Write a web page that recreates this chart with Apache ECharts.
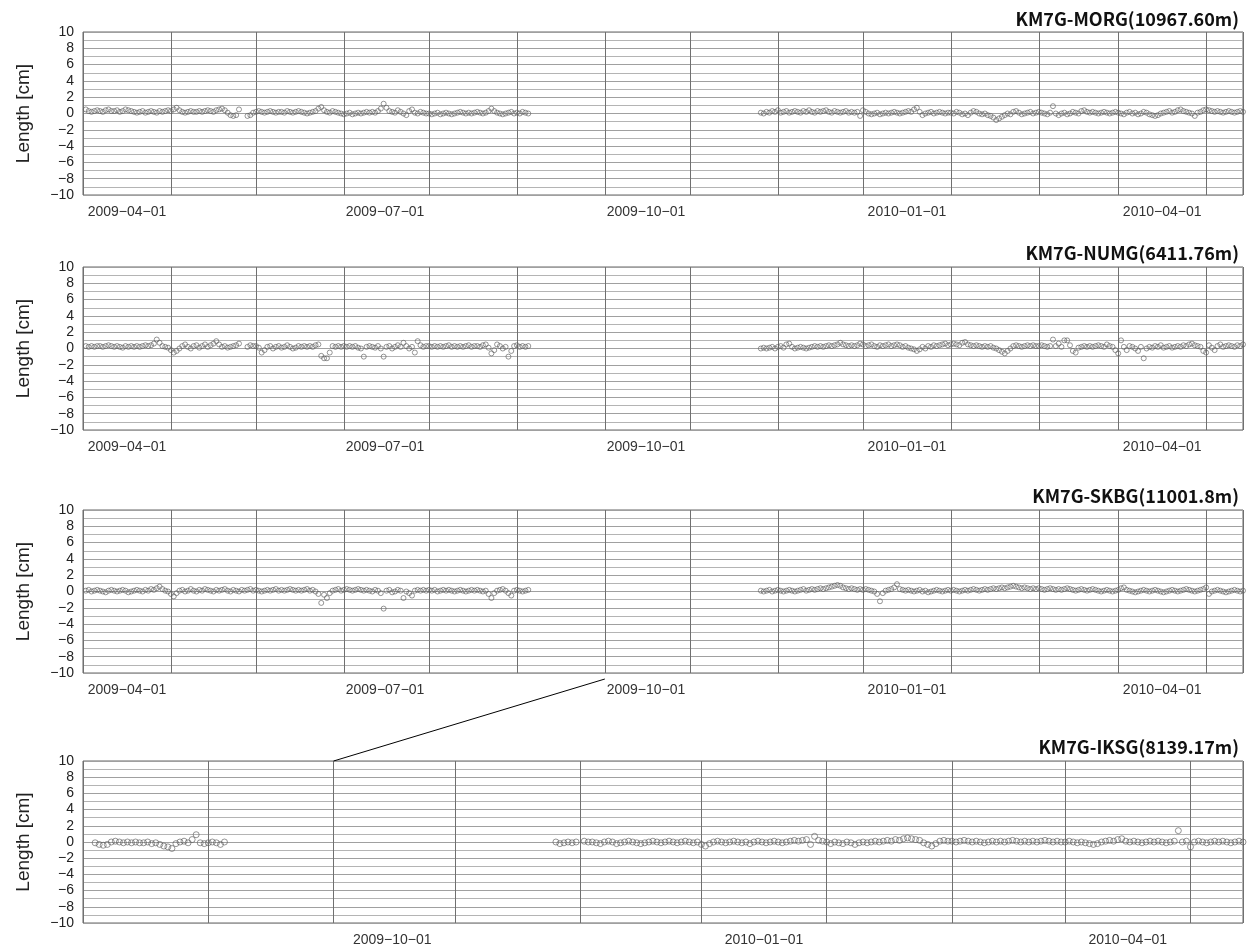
<!DOCTYPE html>
<html><head><meta charset="utf-8">
<script src="https://cdn.jsdelivr.net/npm/echarts@6/dist/echarts.min.js"></script>
<style>html,body{margin:0;padding:0;background:#fff}#c{width:1248px;height:947px}</style>
</head><body><div id="c"></div>
<script>
// ---------- data ----------
const stationNames = ['KM7G-MORG(10967.60m)', 'KM7G-NUMG(6411.76m)', 'KM7G-SKBG(11001.8m)', 'KM7G-IKSG(8139.17m)'];
const axisStart = ['2009-03-01', '2009-03-01', '2009-03-01', '2009-07-01'];
const axisEnd = '2010-04-14';
const segAStart = ['2009-03-02', '2009-03-02', '2009-03-02', '2009-07-04'];
const segBStart = '2009-10-26';
const yTicks = [-10, -8, -6, -4, -2, 0, 2, 4, 6, 8, 10];

// daily length change [cm], first observation block
const morgA = [0.5,0.3,0.2,0.3,0.4,0.3,0.2,0.4,0.5,0.3,0.3,0.4,0.2,0.3,0.5,0.4,0.3,0.2,0.1,0.2,0.3,0.1,0.2,0.3,0.2,0.1,0.3,0.2,0.3,0.4,
 0.3,0.5,0.7,0.4,0.2,0.1,0.2,0.3,0.2,0.2,0.3,0.2,0.3,0.4,0.3,0.2,0.4,0.5,0.6,0.4,0.1,-0.2,-0.3,-0.2,0.5,null,null,-0.3,-0.2,0.1,
 0.2,0.3,0.2,0.1,0.2,0.3,0.2,0.1,0.2,0.2,0.1,0.3,0.2,0.1,0.2,0.3,0.2,0.1,0.0,0.1,0.2,0.3,0.6,0.8,0.4,0.2,0.1,0.3,0.2,0.1,0.0,
 -0.1,0.0,0.1,-0.1,0.0,0.1,0.0,0.1,0.2,0.1,0.2,0.1,0.3,0.6,1.2,0.7,0.3,0.2,0.1,0.4,0.2,0.0,-0.2,0.3,0.5,0.1,0.0,0.2,0.1,0.0,
 0.0,-0.1,0.0,0.1,-0.1,0.0,0.1,0.0,-0.1,0.0,0.1,0.2,0.1,0.0,0.1,0.0,0.1,0.2,0.1,0.0,0.1,0.3,0.6,0.3,0.1,0.0,-0.1,0.0,0.1,0.2,0.0,
 0.1,0.0,0.2,0.1,0.0];
const numgA = [0.3,0.2,0.3,0.2,0.3,0.3,0.2,0.3,0.4,0.3,0.2,0.3,0.2,0.1,0.3,0.2,0.3,0.2,0.3,0.2,0.3,0.4,0.3,0.4,0.6,1.1,0.7,0.3,0.2,0.1,
 -0.2,-0.5,-0.3,0.0,0.3,0.5,0.2,0.0,0.3,0.4,0.1,0.3,0.5,0.2,0.4,0.6,0.9,0.5,0.2,0.3,0.1,0.2,0.3,0.4,0.6,null,null,0.2,0.4,0.3,
 0.3,0.1,-0.5,-0.2,0.2,0.3,0.0,0.2,0.3,0.1,0.2,0.4,0.2,0.0,0.1,0.3,0.2,0.3,0.2,0.3,0.2,0.4,0.5,-0.9,-1.2,-1.2,-0.5,0.3,0.2,0.3,0.2,
 0.3,0.2,0.3,0.2,0.3,0.1,0.0,-1.0,0.2,0.3,0.2,0.1,0.3,0.0,-1.0,0.2,0.3,0.0,0.2,0.4,0.2,0.7,0.3,0.0,0.2,-0.5,0.9,0.4,0.2,0.3,
 0.3,0.2,0.3,0.2,0.3,0.2,0.3,0.4,0.2,0.3,0.2,0.3,0.2,0.3,0.4,0.2,0.3,0.3,0.2,0.4,0.5,0.1,-0.6,-0.2,0.5,0.3,0.0,0.2,-1.0,-0.3,0.3,
 0.4,0.2,0.3,0.2,0.3];
const skbgA = [0.1,0.2,0.0,0.1,0.2,0.1,0.0,-0.1,0.1,0.2,0.1,0.0,0.1,0.2,0.1,-0.1,0.0,0.1,0.2,0.1,0.0,0.2,0.1,0.3,0.2,0.4,0.6,0.3,0.1,0.0,
 -0.3,-0.6,-0.2,0.1,0.2,0.0,0.1,0.3,0.1,0.0,0.2,0.1,0.3,0.2,0.1,0.0,0.2,0.1,0.2,0.3,0.1,0.0,0.2,0.1,0.0,0.2,0.1,0.2,0.3,0.1,
 0.2,0.1,0.0,0.1,0.2,0.1,0.2,0.3,0.1,0.2,0.1,0.2,0.3,0.2,0.1,0.2,0.1,0.2,0.3,0.1,0.2,0.0,-0.3,-1.4,-0.4,-0.8,-0.2,0.1,0.2,0.3,0.1,
 0.2,0.3,0.2,0.1,0.2,0.3,0.2,0.1,0.2,0.1,0.0,0.2,0.1,-0.2,-2.1,0.1,0.2,-0.1,0.0,0.2,0.1,-0.8,0.0,-0.2,-0.5,0.1,0.2,0.1,0.2,0.1,
 0.2,0.1,0.2,0.0,0.1,0.2,0.1,0.2,0.1,0.0,0.1,0.2,0.1,0.0,0.1,0.2,0.1,0.2,0.1,0.0,0.1,-0.3,-0.8,-0.2,0.1,0.2,0.3,0.1,-0.2,-0.5,0.1,
 0.2,0.1,0.0,0.1,0.2];
const iksgA = [-0.1,-0.3,-0.4,-0.3,0.0,0.1,0.0,-0.1,0.0,-0.1,0.0,-0.1,-0.1,0.0,-0.2,-0.1,-0.3,-0.5,-0.6,-0.8,-0.2,0.0,0.1,-0.1,0.3,0.9,-0.1,-0.2,-0.1,0.0,-0.1,-0.3,0.0];

// second observation block (from 2009-10-26)
const morgB = [0.1,0.0,0.2,0.1,0.3,0.2,
 0.4,0.1,0.2,0.3,0.1,0.2,0.3,0.2,0.1,0.3,0.2,0.4,0.2,0.1,0.3,0.2,0.3,0.4,0.2,0.1,0.3,0.2,0.1,0.2,0.3,0.1,0.2,0.1,0.2,-0.3,
 0.4,0.2,0.0,-0.1,0.0,0.1,-0.1,0.0,0.1,0.0,0.1,0.2,0.1,0.0,0.1,0.2,0.3,0.2,0.5,0.7,0.2,-0.2,0.0,0.1,0.2,0.0,0.1,0.2,0.1,0.0,0.1,
 0.1,0.0,0.2,0.1,-0.1,0.0,-0.2,0.1,0.3,0.2,0.0,-0.1,0.0,-0.2,-0.3,-0.5,-0.8,-0.6,-0.4,-0.2,0.0,-0.1,0.2,0.3,0.1,-0.1,0.0,0.1,0.2,0.0,0.1,
 0.2,0.1,0.0,-0.1,0.1,0.9,0.0,-0.2,0.0,0.1,-0.1,0.0,0.2,0.1,0.0,0.3,0.4,0.2,0.1,0.2,0.1,0.0,0.1,0.2,0.1,0.0,0.1,0.2,
 0.1,0.0,-0.1,0.1,0.2,0.0,0.1,-0.1,0.0,0.2,0.1,-0.1,-0.2,-0.3,-0.2,0.0,0.1,0.2,0.3,0.1,0.2,0.4,0.5,0.3,0.2,0.1,0.0,-0.3,0.1,0.2,0.4,
 0.5,0.4,0.3,0.2,0.3,0.2,0.1,0.2,0.3,0.2,0.1,0.2,0.3,0.2];
const numgB = [0.0,0.1,0.0,0.1,0.2,0.0,
 0.2,0.3,0.1,0.5,0.6,0.2,0.0,0.1,0.2,0.1,0.0,0.1,0.2,0.3,0.2,0.3,0.2,0.3,0.4,0.3,0.4,0.5,0.7,0.5,0.4,0.3,0.4,0.3,0.4,0.6,
 0.5,0.3,0.4,0.5,0.3,0.2,0.4,0.3,0.4,0.5,0.3,0.4,0.5,0.4,0.2,0.3,0.1,0.0,-0.1,-0.3,-0.1,0.2,0.0,0.3,0.2,0.4,0.3,0.4,0.5,0.6,0.4,
 0.5,0.6,0.5,0.4,0.7,0.8,0.5,0.4,0.3,0.4,0.3,0.2,0.3,0.2,0.3,0.1,0.0,-0.2,-0.4,-0.6,-0.3,0.0,0.3,0.4,0.3,0.2,0.3,0.4,0.3,0.4,0.3,
 0.3,0.4,0.3,0.2,0.3,1.1,0.3,0.6,0.2,1.0,1.0,0.4,-0.3,-0.5,0.1,0.2,0.3,0.2,0.3,0.2,0.3,0.4,0.3,0.2,0.5,0.3,0.2,-0.2,
 -0.6,1.0,0.2,-0.2,0.3,0.2,0.0,-0.3,0.2,-1.2,0.0,0.2,0.1,0.3,0.2,0.4,0.1,0.2,0.3,0.1,0.2,0.3,0.2,0.4,0.3,0.5,0.6,0.4,0.3,0.2,-0.3,
 -0.5,0.4,0.1,-0.2,0.3,0.5,0.2,0.3,0.4,0.3,0.2,0.4,0.3,0.5];
const skbgB = [0.1,0.0,0.1,0.2,0.0,0.1,
 0.2,0.1,0.0,0.1,0.2,0.1,0.0,0.1,0.2,0.3,0.1,0.2,0.3,0.2,0.3,0.4,0.3,0.4,0.5,0.6,0.7,0.8,0.7,0.5,0.4,0.3,0.4,0.3,0.2,0.3,
 0.2,0.3,0.2,0.1,0.0,-0.3,-1.2,-0.2,0.1,0.2,0.3,0.5,0.9,0.3,0.2,0.1,0.2,0.1,0.0,0.1,0.2,0.0,0.1,-0.1,0.0,0.1,0.2,0.1,0.0,0.1,0.2,
 0.1,0.2,0.1,0.0,0.1,0.2,0.1,0.2,0.3,0.2,0.1,0.2,0.3,0.2,0.3,0.4,0.3,0.4,0.5,0.4,0.5,0.6,0.7,0.6,0.5,0.4,0.5,0.4,0.3,0.4,0.3,
 0.4,0.3,0.2,0.3,0.4,0.3,0.2,0.3,0.2,0.3,0.4,0.3,0.2,0.1,0.2,0.3,0.2,0.1,0.2,0.3,0.2,0.1,0.0,0.1,0.2,0.1,0.0,0.1,
 0.2,0.4,0.5,0.2,0.1,0.0,-0.1,0.0,0.1,0.2,0.1,0.0,0.1,0.2,0.1,0.0,-0.1,0.0,0.1,0.2,0.1,0.0,0.1,0.2,0.3,0.2,0.1,0.0,0.1,0.2,0.3,
 0.5,-0.3,0.0,0.1,0.2,0.1,0.0,-0.1,0.0,0.1,0.2,0.1,0.0,0.1];
const iksgB = [0.0,-0.2,-0.1,0.0,-0.1,0.0,
 null,0.1,0.0,0.0,-0.1,-0.2,0.0,0.1,0.0,-0.2,-0.1,0.0,0.1,0.0,-0.1,-0.2,-0.1,0.0,0.1,0.0,-0.1,0.0,0.1,0.0,-0.1,0.0,0.1,0.0,-0.1,0.0,
 -0.3,-0.5,-0.2,0.0,0.1,0.0,-0.1,0.0,0.1,0.0,-0.1,0.0,-0.2,0.0,0.1,0.0,-0.1,0.0,0.1,0.0,-0.1,0.0,0.1,0.2,0.1,0.2,0.3,-0.3,0.7,0.2,0.1,
 0.0,-0.2,0.0,-0.1,-0.2,0.0,-0.1,-0.3,-0.1,0.0,-0.1,0.0,0.1,0.0,0.1,0.2,0.1,0.3,0.2,0.4,0.5,0.4,0.3,0.2,-0.1,-0.3,-0.5,-0.2,0.1,0.2,0.1,
 0.1,0.0,0.1,0.2,0.1,0.0,0.1,0.0,-0.1,0.0,0.1,0.0,0.1,0.0,0.1,0.2,0.1,0.0,0.1,0.0,0.1,0.0,0.1,0.2,0.1,0.0,0.1,0.0,
 0.0,0.1,0.0,-0.1,0.0,-0.1,-0.2,-0.3,-0.2,0.0,0.1,0.2,0.1,0.3,0.4,0.1,0.0,0.1,0.0,-0.1,0.0,0.1,0.0,0.1,0.0,-0.1,0.0,0.1,1.4,0.0,0.1,
 -0.6,0.0,0.1,0.0,-0.1,0.0,0.1,0.0,0.1,0.0,-0.1,0.0,0.1,0.0];

const seriesA = [morgA, numgA, skbgA, iksgA];
const seriesB = [morgB, numgB, skbgB, iksgB];
const zoomLinkDate = '2009-09-01';

// ---------- helpers ----------
const DAY = 86400000;
const MINUS = '\u2212';
function parts(s) { return s.split('-').map(Number); }
function ts(s) { const p = parts(s); return new Date(p[0], p[1] - 1, p[2]).getTime(); }
function daily(start, vals) {
  const p = parts(start), out = [];
  vals.forEach((v, i) => {
    if (v === null) return;
    out.push([new Date(p[0], p[1] - 1, p[2] + i).getTime(), v]);
  });
  return out;
}
const LABEL_SHIFT = 15.5 * DAY;   // tick labels are centred in the month preceding their date
function fmtLabel(v) {
  const d = new Date(v);
  if (d.getDate() !== 1 || d.getHours() !== 0 || d.getMonth() % 3 !== 0) return '';
  return echarts.time.format(v, '{yyyy}-{MM}-{dd}', false).replace(/-/g, MINUS);
}
function fmtY(v) { return v < 0 ? MINUS + Math.abs(v) : String(v); }

const FONT = 'Liberation Sans, Arial, sans-serif';
const gridTops = [32, 267, 510, 761];
const titleTops = [9, 243, 486, 737];
const PLOT_H = 163;

const chart = echarts.init(document.getElementById('c'), null, { renderer: 'canvas' });

const grids = [], xAxes = [], yAxes = [], series = [], titles = [];
for (let i = 0; i < 4; i++) {
  const mn = ts(axisStart[i]), mx = ts(axisEnd);
  const nMonths = Math.round((mx - mn) / (30 * DAY));
  grids.push({ left: 83, right: 5, top: gridTops[i], height: PLOT_H, show: true,
    borderColor: '#666', borderWidth: 1, backgroundColor: 'transparent', containLabel: false });
  // month grid axis
  xAxes.push({ gridIndex: i, type: 'time', min: mn, max: mx, splitNumber: nMonths,
    minInterval: 28 * DAY, maxInterval: 31 * DAY,
    axisLine: { show: false }, axisTick: { show: false }, axisLabel: { show: false },
    splitLine: { show: true, lineStyle: { color: '#707070', width: 1 } } });
  // label axis
  xAxes.push({ gridIndex: i, type: 'time', min: mn + LABEL_SHIFT, max: mx + LABEL_SHIFT, splitNumber: nMonths,
    minInterval: 28 * DAY, maxInterval: 31 * DAY, position: 'bottom',
    axisLine: { show: false }, axisTick: { show: false }, splitLine: { show: false },
    axisLabel: { show: true, formatter: fmtLabel, fontSize: 14, color: '#333', fontFamily: FONT, margin: 10,
      showMinLabel: false, showMaxLabel: false, hideOverlap: false } });
  yAxes.push({ gridIndex: i, type: 'value', min: yTicks[0], max: yTicks[yTicks.length - 1], interval: yTicks[1] - yTicks[0],
    name: 'Length [cm]', nameLocation: 'middle', nameGap: 50,
    nameTextStyle: { fontSize: 19, color: '#222', fontFamily: FONT },
    axisLine: { show: false }, axisTick: { show: false },
    axisLabel: { fontSize: 14, color: '#222', fontFamily: FONT, margin: 9, formatter: fmtY },
    splitLine: { show: true, lineStyle: { color: '#a0a0a0', width: 1 } },
    minorTick: { show: false, splitNumber: 2 },
    minorSplitLine: { show: true, lineStyle: { color: '#b4b4b4', width: 1 } } });
  const data = daily(segAStart[i], seriesA[i]).concat(daily(segBStart, seriesB[i]));
  series.push({ type: 'scatter', xAxisIndex: 2 * i, yAxisIndex: i, data: data,
    symbol: 'circle', symbolSize: i === 3 ? 6 : 5, silent: true,
    itemStyle: { color: 'rgba(255,255,255,0)', borderColor: '#5a5a5a', borderWidth: 0.8 } });
  titles.push({ text: stationNames[i], right: 7, top: titleTops[i], padding: [1, 2, 1, 4],
    backgroundColor: i === 3 ? '#fff' : 'transparent',
    textStyle: { fontSize: 18, fontWeight: 'bold', color: '#111', fontFamily: 'Noto Sans CJK JP, sans-serif' } });
}

chart.setOption({ animation: false, backgroundColor: '#fff', title: titles, grid: grids, xAxis: xAxes, yAxis: yAxes, series: series });

// connector from panel 3 to the expanded panel 4
const linkT = ts(zoomLinkDate);
const p3 = chart.convertToPixel({ xAxisIndex: 4, yAxisIndex: 2 }, [linkT, yTicks[0]]);
const p4 = chart.convertToPixel({ xAxisIndex: 6, yAxisIndex: 3 }, [linkT, yTicks[yTicks.length - 1]]);
chart.setOption({ graphic: [{ type: 'line', silent: true,
  shape: { x1: p3[0], y1: p3[1] + 6, x2: p4[0], y2: p4[1] },
  style: { stroke: '#000', lineWidth: 1 } }] });
</script></body></html>
